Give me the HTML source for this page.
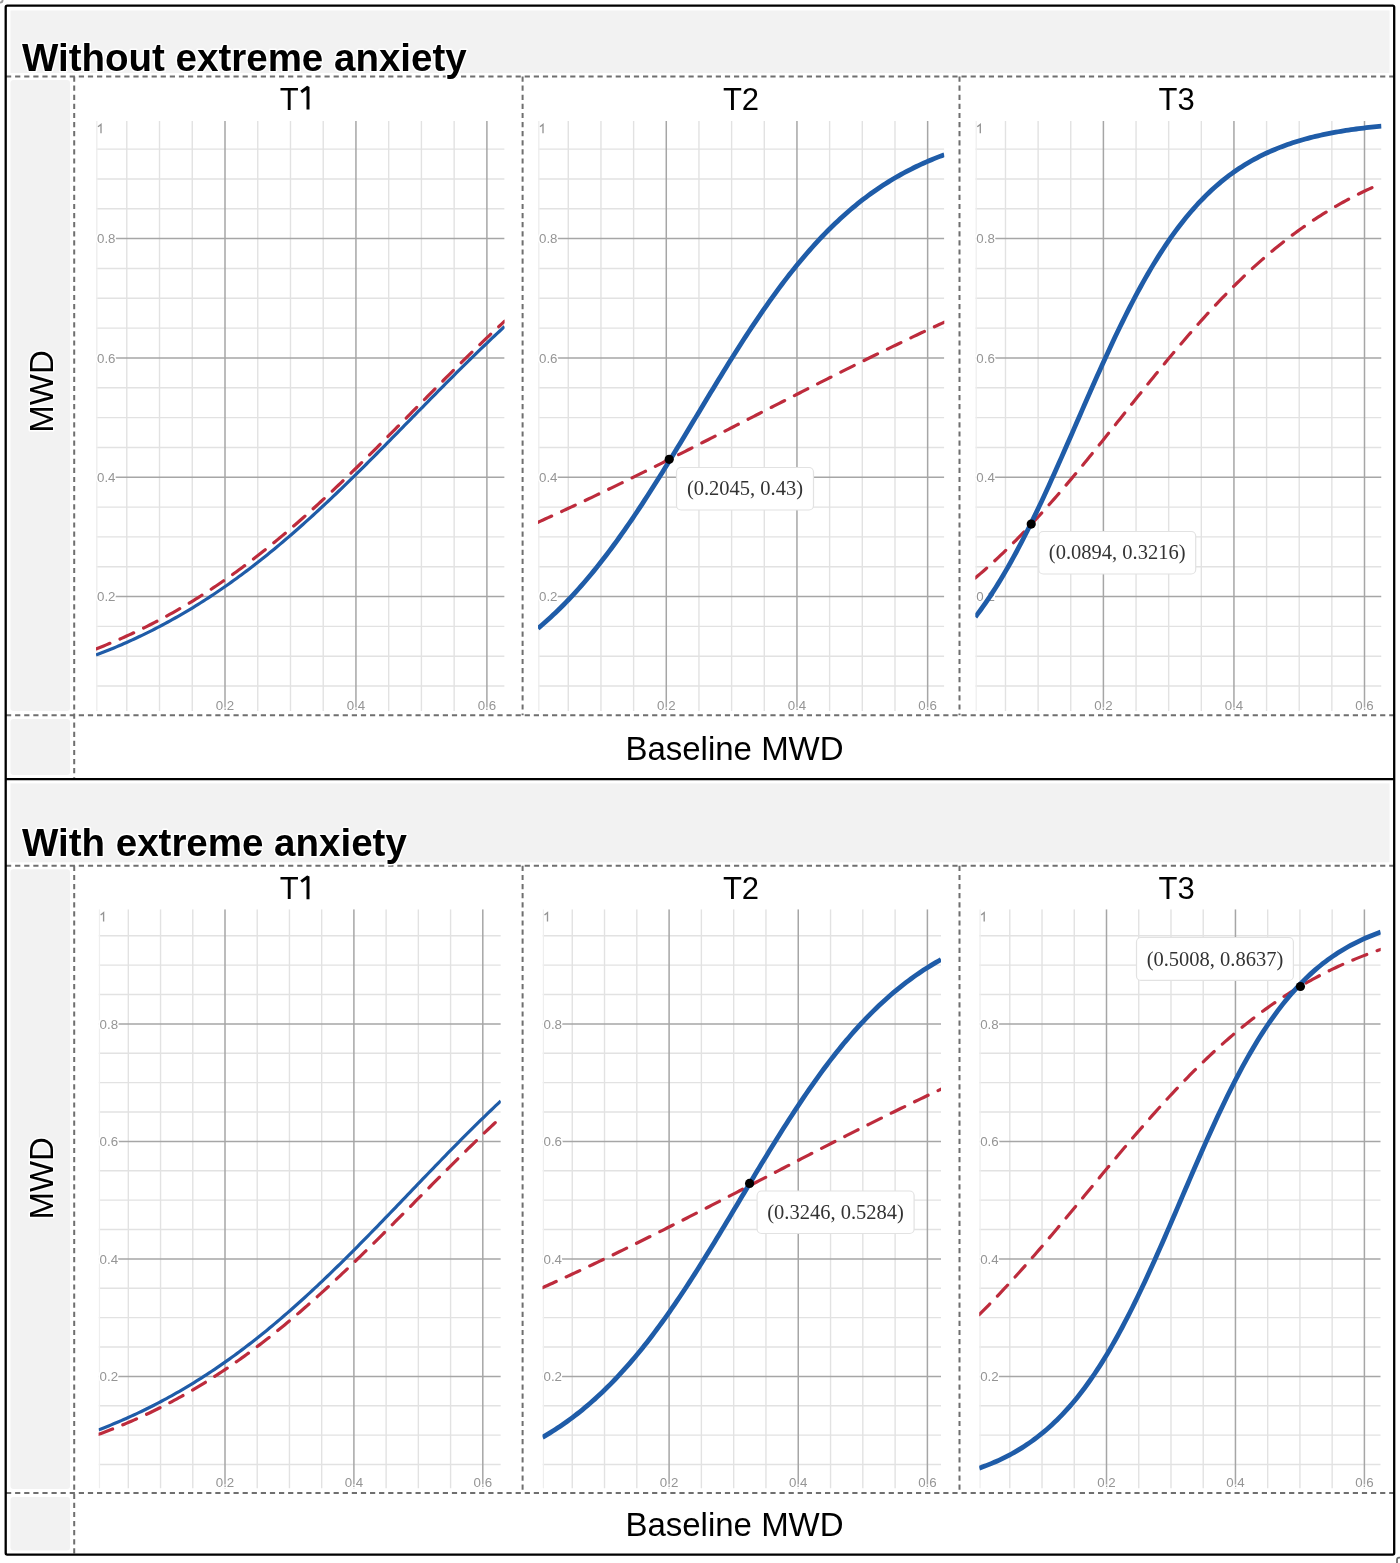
<!DOCTYPE html><html><head><meta charset="utf-8"><style>html,body{margin:0;padding:0;background:#fff;}svg{display:block;filter:blur(0.4px);}text{font-family:"Liberation Sans",sans-serif;}</style></head><body><svg width="1400" height="1563" viewBox="0 0 1400 1563"><rect x="0" y="0" width="1400" height="1563" fill="#fff"/><rect x="10.5" y="10.5" width="1379" height="62.5" fill="#f2f2f2"/><rect x="10.5" y="80.0" width="59.5" height="631.0" rx="3" fill="#f2f2f2"/><rect x="10.5" y="719.0" width="59.5" height="56.0" rx="3" fill="#f2f2f2"/><rect x="10.5" y="783.4" width="1379" height="78.9" fill="#f2f2f2"/><rect x="10.5" y="869.2" width="59.5" height="619.8" rx="3" fill="#f2f2f2"/><rect x="10.5" y="1497.0" width="59.5" height="53.5" rx="3" fill="#f2f2f2"/><defs><clipPath id="c00"><rect x="96.0" y="121.0" width="408.6" height="590.0"/></clipPath><clipPath id="c01"><rect x="538.0" y="121.0" width="406.3" height="590.0"/></clipPath><clipPath id="c02"><rect x="975.3" y="121.0" width="406.2" height="590.0"/></clipPath><clipPath id="c10"><rect x="98.6" y="909.2" width="402.2" height="579.3"/></clipPath><clipPath id="c11"><rect x="542.5" y="909.2" width="398.5" height="579.3"/></clipPath><clipPath id="c12"><rect x="979.2" y="909.2" width="401.5" height="579.3"/></clipPath></defs><g clip-path="url(#c00)"><line x1="126.79" y1="121.0" x2="126.79" y2="711.0" stroke="#e2e2e2" stroke-width="1.4"/><line x1="96.0" y1="686.07" x2="504.6" y2="686.07" stroke="#e2e2e2" stroke-width="1.4"/><line x1="159.53" y1="121.0" x2="159.53" y2="711.0" stroke="#e2e2e2" stroke-width="1.4"/><line x1="96.0" y1="656.24" x2="504.6" y2="656.24" stroke="#e2e2e2" stroke-width="1.4"/><line x1="192.26" y1="121.0" x2="192.26" y2="711.0" stroke="#e2e2e2" stroke-width="1.4"/><line x1="96.0" y1="626.41" x2="504.6" y2="626.41" stroke="#e2e2e2" stroke-width="1.4"/><line x1="257.74" y1="121.0" x2="257.74" y2="711.0" stroke="#e2e2e2" stroke-width="1.4"/><line x1="96.0" y1="566.75" x2="504.6" y2="566.75" stroke="#e2e2e2" stroke-width="1.4"/><line x1="290.48" y1="121.0" x2="290.48" y2="711.0" stroke="#e2e2e2" stroke-width="1.4"/><line x1="96.0" y1="536.92" x2="504.6" y2="536.92" stroke="#e2e2e2" stroke-width="1.4"/><line x1="323.21" y1="121.0" x2="323.21" y2="711.0" stroke="#e2e2e2" stroke-width="1.4"/><line x1="96.0" y1="507.09" x2="504.6" y2="507.09" stroke="#e2e2e2" stroke-width="1.4"/><line x1="388.69" y1="121.0" x2="388.69" y2="711.0" stroke="#e2e2e2" stroke-width="1.4"/><line x1="96.0" y1="447.43" x2="504.6" y2="447.43" stroke="#e2e2e2" stroke-width="1.4"/><line x1="421.43" y1="121.0" x2="421.43" y2="711.0" stroke="#e2e2e2" stroke-width="1.4"/><line x1="96.0" y1="417.60" x2="504.6" y2="417.60" stroke="#e2e2e2" stroke-width="1.4"/><line x1="454.16" y1="121.0" x2="454.16" y2="711.0" stroke="#e2e2e2" stroke-width="1.4"/><line x1="96.0" y1="387.77" x2="504.6" y2="387.77" stroke="#e2e2e2" stroke-width="1.4"/><line x1="96.0" y1="328.11" x2="504.6" y2="328.11" stroke="#e2e2e2" stroke-width="1.4"/><line x1="96.0" y1="298.28" x2="504.6" y2="298.28" stroke="#e2e2e2" stroke-width="1.4"/><line x1="96.0" y1="268.45" x2="504.6" y2="268.45" stroke="#e2e2e2" stroke-width="1.4"/><line x1="96.0" y1="208.79" x2="504.6" y2="208.79" stroke="#e2e2e2" stroke-width="1.4"/><line x1="96.0" y1="178.96" x2="504.6" y2="178.96" stroke="#e2e2e2" stroke-width="1.4"/><line x1="96.0" y1="149.13" x2="504.6" y2="149.13" stroke="#e2e2e2" stroke-width="1.4"/><line x1="96.80" y1="121.0" x2="96.80" y2="711.0" stroke="#eeeeee" stroke-width="1.4"/><line x1="225.00" y1="121.0" x2="225.00" y2="711.0" stroke="#a6a6a6" stroke-width="1.5"/><line x1="96.0" y1="596.58" x2="504.6" y2="596.58" stroke="#a6a6a6" stroke-width="1.5"/><line x1="355.95" y1="121.0" x2="355.95" y2="711.0" stroke="#a6a6a6" stroke-width="1.5"/><line x1="96.0" y1="477.26" x2="504.6" y2="477.26" stroke="#a6a6a6" stroke-width="1.5"/><line x1="486.90" y1="121.0" x2="486.90" y2="711.0" stroke="#a6a6a6" stroke-width="1.5"/><line x1="96.0" y1="357.94" x2="504.6" y2="357.94" stroke="#a6a6a6" stroke-width="1.5"/><line x1="96.0" y1="238.62" x2="504.6" y2="238.62" stroke="#a6a6a6" stroke-width="1.5"/></g><rect x="97.5" y="594.1" width="18.0" height="5" fill="#fff"/><text x="97.0" y="601.4" font-size="13.3" fill="#959595" stroke="#fff" stroke-width="3" paint-order="stroke" stroke-linejoin="round">0.2</text><rect x="97.5" y="474.8" width="18.0" height="5" fill="#fff"/><text x="97.0" y="482.1" font-size="13.3" fill="#959595" stroke="#fff" stroke-width="3" paint-order="stroke" stroke-linejoin="round">0.4</text><rect x="97.5" y="355.4" width="18.0" height="5" fill="#fff"/><text x="97.0" y="362.7" font-size="13.3" fill="#959595" stroke="#fff" stroke-width="3" paint-order="stroke" stroke-linejoin="round">0.6</text><rect x="97.5" y="236.1" width="18.0" height="5" fill="#fff"/><text x="97.0" y="243.4" font-size="13.3" fill="#959595" stroke="#fff" stroke-width="3" paint-order="stroke" stroke-linejoin="round">0.8</text><path d="M98.0 126.8 L101.0 124.4 L101.0 133.3" fill="none" stroke="#959595" stroke-width="1.35" stroke-linejoin="miter"/><text x="225.0" y="709.5" font-size="13.3" fill="#959595" text-anchor="middle" stroke="#fff" stroke-width="2" paint-order="stroke" stroke-linejoin="round">0.2</text><text x="356.0" y="709.5" font-size="13.3" fill="#959595" text-anchor="middle" stroke="#fff" stroke-width="2" paint-order="stroke" stroke-linejoin="round">0.4</text><text x="486.9" y="709.5" font-size="13.3" fill="#959595" text-anchor="middle" stroke="#fff" stroke-width="2" paint-order="stroke" stroke-linejoin="round">0.6</text><g clip-path="url(#c00)"><polyline points="96.00,648.93 98.55,647.93 101.11,646.92 103.66,645.90 106.22,644.86 108.77,643.81 111.32,642.74 113.88,641.67 116.43,640.57 118.98,639.47 121.54,638.35 124.09,637.21 126.64,636.06 129.20,634.90 131.75,633.72 134.31,632.53 136.86,631.32 139.41,630.10 141.97,628.86 144.52,627.61 147.07,626.34 149.63,625.05 152.18,623.75 154.74,622.44 157.29,621.11 159.84,619.76 162.40,618.40 164.95,617.02 167.50,615.63 170.06,614.22 172.61,612.79 175.17,611.34 177.72,609.89 180.27,608.41 182.83,606.92 185.38,605.41 187.94,603.88 190.49,602.34 193.04,600.78 195.60,599.21 198.15,597.61 200.70,596.00 203.26,594.38 205.81,592.73 208.37,591.07 210.92,589.40 213.47,587.70 216.03,585.99 218.58,584.26 221.13,582.52 223.69,580.75 226.24,578.98 228.80,577.18 231.35,575.37 233.90,573.54 236.46,571.69 239.01,569.82 241.56,567.94 244.12,566.05 246.67,564.13 249.23,562.20 251.78,560.25 254.33,558.29 256.89,556.31 259.44,554.31 261.99,552.30 264.55,550.27 267.10,548.22 269.65,546.16 272.21,544.08 274.76,541.99 277.32,539.88 279.87,537.75 282.42,535.61 284.98,533.46 287.53,531.29 290.08,529.10 292.64,526.90 295.19,524.69 297.75,522.46 300.30,520.22 302.85,517.96 305.41,515.69 307.96,513.40 310.51,511.11 313.07,508.79 315.62,506.47 318.18,504.13 320.73,501.78 323.28,499.42 325.84,497.05 328.39,494.66 330.94,492.27 333.50,489.86 336.05,487.44 338.61,485.01 341.16,482.57 343.71,480.12 346.27,477.67 348.82,475.20 351.38,472.72 353.93,470.23 356.48,467.74 359.04,465.24 361.59,462.73 364.14,460.21 366.70,457.69 369.25,455.15 371.81,452.62 374.36,450.07 376.91,447.52 379.47,444.97 382.02,442.41 384.57,439.85 387.13,437.28 389.68,434.71 392.24,432.13 394.79,429.55 397.34,426.97 399.90,424.39 402.45,421.80 405.00,419.22 407.56,416.63 410.11,414.04 412.66,411.45 415.22,408.86 417.77,406.27 420.33,403.69 422.88,401.10 425.43,398.51 427.99,395.93 430.54,393.35 433.10,390.77 435.65,388.20 438.20,385.63 440.76,383.06 443.31,380.50 445.86,377.94 448.42,375.39 450.97,372.84 453.53,370.30 456.08,367.77 458.63,365.24 461.19,362.72 463.74,360.20 466.29,357.70 468.85,355.20 471.40,352.71 473.95,350.23 476.51,347.75 479.06,345.29 481.62,342.84 484.17,340.39 486.72,337.96 489.28,335.54 491.83,333.12 494.38,330.72 496.94,328.33 499.49,325.96 502.05,323.59 504.60,321.24" fill="none" stroke="#bd2b3c" stroke-width="3.2" stroke-linejoin="round" stroke-dasharray="15 11" stroke-linecap="round"/></g><g clip-path="url(#c00)"><polyline points="96.00,655.03 98.55,654.06 101.11,653.07 103.66,652.07 106.22,651.06 108.77,650.03 111.32,648.99 113.88,647.94 116.43,646.87 118.98,645.78 121.54,644.69 124.09,643.57 126.64,642.44 129.20,641.30 131.75,640.14 134.31,638.97 136.86,637.78 139.41,636.57 141.97,635.35 144.52,634.12 147.07,632.86 149.63,631.60 152.18,630.31 154.74,629.01 157.29,627.70 159.84,626.36 162.40,625.01 164.95,623.65 167.50,622.27 170.06,620.87 172.61,619.45 175.17,618.02 177.72,616.57 180.27,615.11 182.83,613.62 185.38,612.12 187.94,610.60 190.49,609.07 193.04,607.52 195.60,605.95 198.15,604.36 200.70,602.76 203.26,601.13 205.81,599.49 208.37,597.84 210.92,596.16 213.47,594.47 216.03,592.76 218.58,591.03 221.13,589.29 223.69,587.53 226.24,585.75 228.80,583.95 231.35,582.13 233.90,580.30 236.46,578.45 239.01,576.58 241.56,574.70 244.12,572.80 246.67,570.88 249.23,568.94 251.78,566.99 254.33,565.01 256.89,563.03 259.44,561.02 261.99,559.00 264.55,556.96 267.10,554.90 269.65,552.83 272.21,550.74 274.76,548.64 277.32,546.52 279.87,544.38 282.42,542.23 284.98,540.06 287.53,537.88 290.08,535.68 292.64,533.47 295.19,531.24 297.75,528.99 300.30,526.74 302.85,524.46 305.41,522.18 307.96,519.88 310.51,517.56 313.07,515.23 315.62,512.89 318.18,510.54 320.73,508.17 323.28,505.79 325.84,503.40 328.39,501.00 330.94,498.59 333.50,496.16 336.05,493.72 338.61,491.28 341.16,488.82 343.71,486.35 346.27,483.87 348.82,481.38 351.38,478.89 353.93,476.38 356.48,473.87 359.04,471.35 361.59,468.82 364.14,466.28 366.70,463.74 369.25,461.19 371.81,458.63 374.36,456.07 376.91,453.50 379.47,450.93 382.02,448.35 384.57,445.76 387.13,443.18 389.68,440.59 392.24,437.99 394.79,435.40 397.34,432.80 399.90,430.20 402.45,427.59 405.00,424.99 407.56,422.38 410.11,419.78 412.66,417.17 415.22,414.57 417.77,411.96 420.33,409.36 422.88,406.76 425.43,404.16 427.99,401.56 430.54,398.96 433.10,396.37 435.65,393.78 438.20,391.20 440.76,388.62 443.31,386.04 445.86,383.47 448.42,380.90 450.97,378.34 453.53,375.79 456.08,373.24 458.63,370.70 461.19,368.16 463.74,365.64 466.29,363.12 468.85,360.61 471.40,358.11 473.95,355.62 476.51,353.13 479.06,350.66 481.62,348.19 484.17,345.74 486.72,343.30 489.28,340.87 491.83,338.44 494.38,336.03 496.94,333.64 499.49,331.25 502.05,328.87 504.60,326.51" fill="none" stroke="#1f5ca8" stroke-width="3.2" stroke-linejoin="round" stroke-linecap="butt"/></g><g clip-path="url(#c01)"><line x1="568.27" y1="121.0" x2="568.27" y2="711.0" stroke="#e2e2e2" stroke-width="1.4"/><line x1="538.0" y1="686.07" x2="944.3" y2="686.07" stroke="#e2e2e2" stroke-width="1.4"/><line x1="600.94" y1="121.0" x2="600.94" y2="711.0" stroke="#e2e2e2" stroke-width="1.4"/><line x1="538.0" y1="656.24" x2="944.3" y2="656.24" stroke="#e2e2e2" stroke-width="1.4"/><line x1="633.61" y1="121.0" x2="633.61" y2="711.0" stroke="#e2e2e2" stroke-width="1.4"/><line x1="538.0" y1="626.41" x2="944.3" y2="626.41" stroke="#e2e2e2" stroke-width="1.4"/><line x1="698.95" y1="121.0" x2="698.95" y2="711.0" stroke="#e2e2e2" stroke-width="1.4"/><line x1="538.0" y1="566.75" x2="944.3" y2="566.75" stroke="#e2e2e2" stroke-width="1.4"/><line x1="731.62" y1="121.0" x2="731.62" y2="711.0" stroke="#e2e2e2" stroke-width="1.4"/><line x1="538.0" y1="536.92" x2="944.3" y2="536.92" stroke="#e2e2e2" stroke-width="1.4"/><line x1="764.29" y1="121.0" x2="764.29" y2="711.0" stroke="#e2e2e2" stroke-width="1.4"/><line x1="538.0" y1="507.09" x2="944.3" y2="507.09" stroke="#e2e2e2" stroke-width="1.4"/><line x1="829.63" y1="121.0" x2="829.63" y2="711.0" stroke="#e2e2e2" stroke-width="1.4"/><line x1="538.0" y1="447.43" x2="944.3" y2="447.43" stroke="#e2e2e2" stroke-width="1.4"/><line x1="862.30" y1="121.0" x2="862.30" y2="711.0" stroke="#e2e2e2" stroke-width="1.4"/><line x1="538.0" y1="417.60" x2="944.3" y2="417.60" stroke="#e2e2e2" stroke-width="1.4"/><line x1="894.97" y1="121.0" x2="894.97" y2="711.0" stroke="#e2e2e2" stroke-width="1.4"/><line x1="538.0" y1="387.77" x2="944.3" y2="387.77" stroke="#e2e2e2" stroke-width="1.4"/><line x1="538.0" y1="328.11" x2="944.3" y2="328.11" stroke="#e2e2e2" stroke-width="1.4"/><line x1="538.0" y1="298.28" x2="944.3" y2="298.28" stroke="#e2e2e2" stroke-width="1.4"/><line x1="538.0" y1="268.45" x2="944.3" y2="268.45" stroke="#e2e2e2" stroke-width="1.4"/><line x1="538.0" y1="208.79" x2="944.3" y2="208.79" stroke="#e2e2e2" stroke-width="1.4"/><line x1="538.0" y1="178.96" x2="944.3" y2="178.96" stroke="#e2e2e2" stroke-width="1.4"/><line x1="538.0" y1="149.13" x2="944.3" y2="149.13" stroke="#e2e2e2" stroke-width="1.4"/><line x1="538.80" y1="121.0" x2="538.80" y2="711.0" stroke="#eeeeee" stroke-width="1.4"/><line x1="666.28" y1="121.0" x2="666.28" y2="711.0" stroke="#a6a6a6" stroke-width="1.5"/><line x1="538.0" y1="596.58" x2="944.3" y2="596.58" stroke="#a6a6a6" stroke-width="1.5"/><line x1="796.96" y1="121.0" x2="796.96" y2="711.0" stroke="#a6a6a6" stroke-width="1.5"/><line x1="538.0" y1="477.26" x2="944.3" y2="477.26" stroke="#a6a6a6" stroke-width="1.5"/><line x1="927.64" y1="121.0" x2="927.64" y2="711.0" stroke="#a6a6a6" stroke-width="1.5"/><line x1="538.0" y1="357.94" x2="944.3" y2="357.94" stroke="#a6a6a6" stroke-width="1.5"/><line x1="538.0" y1="238.62" x2="944.3" y2="238.62" stroke="#a6a6a6" stroke-width="1.5"/></g><rect x="539.5" y="594.1" width="18.0" height="5" fill="#fff"/><text x="539.0" y="601.4" font-size="13.3" fill="#959595" stroke="#fff" stroke-width="3" paint-order="stroke" stroke-linejoin="round">0.2</text><rect x="539.5" y="474.8" width="18.0" height="5" fill="#fff"/><text x="539.0" y="482.1" font-size="13.3" fill="#959595" stroke="#fff" stroke-width="3" paint-order="stroke" stroke-linejoin="round">0.4</text><rect x="539.5" y="355.4" width="18.0" height="5" fill="#fff"/><text x="539.0" y="362.7" font-size="13.3" fill="#959595" stroke="#fff" stroke-width="3" paint-order="stroke" stroke-linejoin="round">0.6</text><rect x="539.5" y="236.1" width="18.0" height="5" fill="#fff"/><text x="539.0" y="243.4" font-size="13.3" fill="#959595" stroke="#fff" stroke-width="3" paint-order="stroke" stroke-linejoin="round">0.8</text><path d="M540.0 126.8 L543.0 124.4 L543.0 133.3" fill="none" stroke="#959595" stroke-width="1.35" stroke-linejoin="miter"/><text x="666.3" y="709.5" font-size="13.3" fill="#959595" text-anchor="middle" stroke="#fff" stroke-width="2" paint-order="stroke" stroke-linejoin="round">0.2</text><text x="797.0" y="709.5" font-size="13.3" fill="#959595" text-anchor="middle" stroke="#fff" stroke-width="2" paint-order="stroke" stroke-linejoin="round">0.4</text><text x="927.6" y="709.5" font-size="13.3" fill="#959595" text-anchor="middle" stroke="#fff" stroke-width="2" paint-order="stroke" stroke-linejoin="round">0.6</text><g clip-path="url(#c01)"><polyline points="538.00,522.23 540.54,521.09 543.08,519.95 545.62,518.80 548.16,517.65 550.70,516.49 553.24,515.33 555.78,514.17 558.32,513.01 560.85,511.84 563.39,510.66 565.93,509.49 568.47,508.31 571.01,507.13 573.55,505.95 576.09,504.76 578.63,503.57 581.17,502.37 583.71,501.18 586.25,499.98 588.79,498.78 591.33,497.57 593.87,496.36 596.41,495.15 598.94,493.94 601.48,492.72 604.02,491.50 606.56,490.28 609.10,489.06 611.64,487.83 614.18,486.60 616.72,485.37 619.26,484.13 621.80,482.90 624.34,481.66 626.88,480.42 629.42,479.17 631.96,477.93 634.50,476.68 637.04,475.43 639.58,474.17 642.11,472.92 644.65,471.66 647.19,470.40 649.73,469.14 652.27,467.88 654.81,466.62 657.35,465.35 659.89,464.08 662.43,462.81 664.97,461.54 667.51,460.27 670.05,458.99 672.59,457.72 675.13,456.44 677.67,455.16 680.20,453.88 682.74,452.60 685.28,451.31 687.82,450.03 690.36,448.74 692.90,447.45 695.44,446.17 697.98,444.88 700.52,443.59 703.06,442.29 705.60,441.00 708.14,439.71 710.68,438.41 713.22,437.12 715.76,435.82 718.30,434.53 720.84,433.23 723.37,431.93 725.91,430.63 728.45,429.34 730.99,428.04 733.53,426.74 736.07,425.44 738.61,424.14 741.15,422.84 743.69,421.54 746.23,420.23 748.77,418.93 751.31,417.63 753.85,416.33 756.39,415.03 758.93,413.73 761.46,412.43 764.00,411.13 766.54,409.83 769.08,408.53 771.62,407.23 774.16,405.93 776.70,404.63 779.24,403.33 781.78,402.03 784.32,400.73 786.86,399.44 789.40,398.14 791.94,396.85 794.48,395.55 797.02,394.26 799.56,392.97 802.10,391.67 804.63,390.38 807.17,389.09 809.71,387.80 812.25,386.51 814.79,385.23 817.33,383.94 819.87,382.66 822.41,381.38 824.95,380.09 827.49,378.81 830.03,377.53 832.57,376.26 835.11,374.98 837.65,373.71 840.19,372.43 842.72,371.16 845.26,369.89 847.80,368.63 850.34,367.36 852.88,366.10 855.42,364.84 857.96,363.58 860.50,362.32 863.04,361.06 865.58,359.81 868.12,358.56 870.66,357.31 873.20,356.06 875.74,354.81 878.28,353.57 880.82,352.33 883.36,351.09 885.89,349.85 888.43,348.62 890.97,347.39 893.51,346.16 896.05,344.94 898.59,343.71 901.13,342.49 903.67,341.27 906.21,340.06 908.75,338.85 911.29,337.64 913.83,336.43 916.37,335.22 918.91,334.02 921.45,332.82 923.99,331.63 926.52,330.44 929.06,329.25 931.60,328.06 934.14,326.88 936.68,325.70 939.22,324.52 941.76,323.35 944.30,322.18" fill="none" stroke="#bd2b3c" stroke-width="3.2" stroke-linejoin="round" stroke-dasharray="15 11" stroke-linecap="round"/></g><g clip-path="url(#c01)"><polyline points="538.00,628.38 540.54,626.24 543.08,624.05 545.62,621.82 548.16,619.54 550.70,617.23 553.24,614.86 555.78,612.46 558.32,610.00 560.85,607.51 563.39,604.96 565.93,602.37 568.47,599.74 571.01,597.06 573.55,594.33 576.09,591.56 578.63,588.74 581.17,585.88 583.71,582.97 586.25,580.01 588.79,577.01 591.33,573.96 593.87,570.87 596.41,567.73 598.94,564.55 601.48,561.32 604.02,558.04 606.56,554.73 609.10,551.37 611.64,547.97 614.18,544.52 616.72,541.04 619.26,537.51 621.80,533.94 624.34,530.33 626.88,526.69 629.42,523.01 631.96,519.29 634.50,515.53 637.04,511.74 639.58,507.91 642.11,504.06 644.65,500.17 647.19,496.25 649.73,492.30 652.27,488.32 654.81,484.32 657.35,480.29 659.89,476.24 662.43,472.17 664.97,468.07 667.51,463.96 670.05,459.82 672.59,455.68 675.13,451.51 677.67,447.34 680.20,443.15 682.74,438.95 685.28,434.74 687.82,430.53 690.36,426.31 692.90,422.09 695.44,417.87 697.98,413.65 700.52,409.43 703.06,405.21 705.60,401.00 708.14,396.79 710.68,392.60 713.22,388.41 715.76,384.24 718.30,380.08 720.84,375.93 723.37,371.80 725.91,367.69 728.45,363.60 730.99,359.53 733.53,355.48 736.07,351.46 738.61,347.46 741.15,343.49 743.69,339.55 746.23,335.64 748.77,331.75 751.31,327.90 753.85,324.08 756.39,320.30 758.93,316.55 761.46,312.83 764.00,309.16 766.54,305.52 769.08,301.92 771.62,298.36 774.16,294.84 776.70,291.36 779.24,287.92 781.78,284.52 784.32,281.17 786.86,277.86 789.40,274.59 791.94,271.37 794.48,268.20 797.02,265.06 799.56,261.98 802.10,258.93 804.63,255.94 807.17,252.99 809.71,250.08 812.25,247.22 814.79,244.41 817.33,241.64 819.87,238.92 822.41,236.24 824.95,233.61 827.49,231.03 830.03,228.49 832.57,226.00 835.11,223.55 837.65,221.14 840.19,218.78 842.72,216.47 845.26,214.19 847.80,211.97 850.34,209.78 852.88,207.64 855.42,205.54 857.96,203.48 860.50,201.46 863.04,199.48 865.58,197.55 868.12,195.65 870.66,193.79 873.20,191.98 875.74,190.20 878.28,188.46 880.82,186.75 883.36,185.08 885.89,183.45 888.43,181.86 890.97,180.30 893.51,178.77 896.05,177.28 898.59,175.82 901.13,174.40 903.67,173.01 906.21,171.65 908.75,170.32 911.29,169.02 913.83,167.75 916.37,166.51 918.91,165.31 921.45,164.12 923.99,162.97 926.52,161.85 929.06,160.75 931.60,159.68 934.14,158.63 936.68,157.61 939.22,156.61 941.76,155.64 944.30,154.69" fill="none" stroke="#1f5ca8" stroke-width="4.8" stroke-linejoin="round" stroke-linecap="butt"/></g><g clip-path="url(#c02)"><line x1="1005.49" y1="121.0" x2="1005.49" y2="711.0" stroke="#e2e2e2" stroke-width="1.4"/><line x1="975.3" y1="686.07" x2="1381.5" y2="686.07" stroke="#e2e2e2" stroke-width="1.4"/><line x1="1038.12" y1="121.0" x2="1038.12" y2="711.0" stroke="#e2e2e2" stroke-width="1.4"/><line x1="975.3" y1="656.24" x2="1381.5" y2="656.24" stroke="#e2e2e2" stroke-width="1.4"/><line x1="1070.76" y1="121.0" x2="1070.76" y2="711.0" stroke="#e2e2e2" stroke-width="1.4"/><line x1="975.3" y1="626.41" x2="1381.5" y2="626.41" stroke="#e2e2e2" stroke-width="1.4"/><line x1="1136.04" y1="121.0" x2="1136.04" y2="711.0" stroke="#e2e2e2" stroke-width="1.4"/><line x1="975.3" y1="566.75" x2="1381.5" y2="566.75" stroke="#e2e2e2" stroke-width="1.4"/><line x1="1168.67" y1="121.0" x2="1168.67" y2="711.0" stroke="#e2e2e2" stroke-width="1.4"/><line x1="975.3" y1="536.92" x2="1381.5" y2="536.92" stroke="#e2e2e2" stroke-width="1.4"/><line x1="1201.31" y1="121.0" x2="1201.31" y2="711.0" stroke="#e2e2e2" stroke-width="1.4"/><line x1="975.3" y1="507.09" x2="1381.5" y2="507.09" stroke="#e2e2e2" stroke-width="1.4"/><line x1="1266.59" y1="121.0" x2="1266.59" y2="711.0" stroke="#e2e2e2" stroke-width="1.4"/><line x1="975.3" y1="447.43" x2="1381.5" y2="447.43" stroke="#e2e2e2" stroke-width="1.4"/><line x1="1299.22" y1="121.0" x2="1299.22" y2="711.0" stroke="#e2e2e2" stroke-width="1.4"/><line x1="975.3" y1="417.60" x2="1381.5" y2="417.60" stroke="#e2e2e2" stroke-width="1.4"/><line x1="1331.86" y1="121.0" x2="1331.86" y2="711.0" stroke="#e2e2e2" stroke-width="1.4"/><line x1="975.3" y1="387.77" x2="1381.5" y2="387.77" stroke="#e2e2e2" stroke-width="1.4"/><line x1="975.3" y1="328.11" x2="1381.5" y2="328.11" stroke="#e2e2e2" stroke-width="1.4"/><line x1="975.3" y1="298.28" x2="1381.5" y2="298.28" stroke="#e2e2e2" stroke-width="1.4"/><line x1="975.3" y1="268.45" x2="1381.5" y2="268.45" stroke="#e2e2e2" stroke-width="1.4"/><line x1="975.3" y1="208.79" x2="1381.5" y2="208.79" stroke="#e2e2e2" stroke-width="1.4"/><line x1="975.3" y1="178.96" x2="1381.5" y2="178.96" stroke="#e2e2e2" stroke-width="1.4"/><line x1="975.3" y1="149.13" x2="1381.5" y2="149.13" stroke="#e2e2e2" stroke-width="1.4"/><line x1="976.10" y1="121.0" x2="976.10" y2="711.0" stroke="#eeeeee" stroke-width="1.4"/><line x1="1103.40" y1="121.0" x2="1103.40" y2="711.0" stroke="#a6a6a6" stroke-width="1.5"/><line x1="975.3" y1="596.58" x2="1381.5" y2="596.58" stroke="#a6a6a6" stroke-width="1.5"/><line x1="1233.95" y1="121.0" x2="1233.95" y2="711.0" stroke="#a6a6a6" stroke-width="1.5"/><line x1="975.3" y1="477.26" x2="1381.5" y2="477.26" stroke="#a6a6a6" stroke-width="1.5"/><line x1="1364.50" y1="121.0" x2="1364.50" y2="711.0" stroke="#a6a6a6" stroke-width="1.5"/><line x1="975.3" y1="357.94" x2="1381.5" y2="357.94" stroke="#a6a6a6" stroke-width="1.5"/><line x1="975.3" y1="238.62" x2="1381.5" y2="238.62" stroke="#a6a6a6" stroke-width="1.5"/></g><rect x="976.8" y="594.1" width="18.0" height="5" fill="#fff"/><text x="976.3" y="601.4" font-size="13.3" fill="#959595" stroke="#fff" stroke-width="3" paint-order="stroke" stroke-linejoin="round">0.2</text><rect x="976.8" y="474.8" width="18.0" height="5" fill="#fff"/><text x="976.3" y="482.1" font-size="13.3" fill="#959595" stroke="#fff" stroke-width="3" paint-order="stroke" stroke-linejoin="round">0.4</text><rect x="976.8" y="355.4" width="18.0" height="5" fill="#fff"/><text x="976.3" y="362.7" font-size="13.3" fill="#959595" stroke="#fff" stroke-width="3" paint-order="stroke" stroke-linejoin="round">0.6</text><rect x="976.8" y="236.1" width="18.0" height="5" fill="#fff"/><text x="976.3" y="243.4" font-size="13.3" fill="#959595" stroke="#fff" stroke-width="3" paint-order="stroke" stroke-linejoin="round">0.8</text><path d="M977.3 126.8 L980.3 124.4 L980.3 133.3" fill="none" stroke="#959595" stroke-width="1.35" stroke-linejoin="miter"/><text x="1103.4" y="709.5" font-size="13.3" fill="#959595" text-anchor="middle" stroke="#fff" stroke-width="2" paint-order="stroke" stroke-linejoin="round">0.2</text><text x="1234.0" y="709.5" font-size="13.3" fill="#959595" text-anchor="middle" stroke="#fff" stroke-width="2" paint-order="stroke" stroke-linejoin="round">0.4</text><text x="1364.5" y="709.5" font-size="13.3" fill="#959595" text-anchor="middle" stroke="#fff" stroke-width="2" paint-order="stroke" stroke-linejoin="round">0.6</text><g clip-path="url(#c02)"><polyline points="975.30,577.97 977.84,575.81 980.38,573.63 982.92,571.42 985.45,569.19 987.99,566.93 990.53,564.64 993.07,562.32 995.61,559.98 998.15,557.61 1000.69,555.21 1003.23,552.79 1005.76,550.34 1008.30,547.86 1010.84,545.36 1013.38,542.84 1015.92,540.28 1018.46,537.71 1021.00,535.10 1023.54,532.48 1026.08,529.82 1028.61,527.15 1031.15,524.45 1033.69,521.72 1036.23,518.98 1038.77,516.21 1041.31,513.42 1043.85,510.60 1046.38,507.77 1048.92,504.92 1051.46,502.04 1054.00,499.14 1056.54,496.23 1059.08,493.29 1061.62,490.34 1064.16,487.37 1066.69,484.39 1069.23,481.38 1071.77,478.36 1074.31,475.33 1076.85,472.28 1079.39,469.21 1081.93,466.14 1084.47,463.05 1087.00,459.95 1089.54,456.84 1092.08,453.71 1094.62,450.58 1097.16,447.44 1099.70,444.29 1102.24,441.13 1104.78,437.97 1107.32,434.80 1109.85,431.63 1112.39,428.45 1114.93,425.27 1117.47,422.08 1120.01,418.90 1122.55,415.71 1125.09,412.52 1127.62,409.33 1130.16,406.15 1132.70,402.96 1135.24,399.78 1137.78,396.61 1140.32,393.44 1142.86,390.27 1145.40,387.11 1147.93,383.96 1150.47,380.81 1153.01,377.67 1155.55,374.55 1158.09,371.43 1160.63,368.32 1163.17,365.23 1165.71,362.14 1168.24,359.07 1170.78,356.02 1173.32,352.98 1175.86,349.95 1178.40,346.94 1180.94,343.94 1183.48,340.96 1186.02,338.00 1188.56,335.06 1191.09,332.14 1193.63,329.23 1196.17,326.35 1198.71,323.48 1201.25,320.64 1203.79,317.82 1206.33,315.02 1208.87,312.24 1211.40,309.48 1213.94,306.75 1216.48,304.04 1219.02,301.36 1221.56,298.70 1224.10,296.06 1226.64,293.45 1229.17,290.86 1231.71,288.30 1234.25,285.76 1236.79,283.25 1239.33,280.77 1241.87,278.31 1244.41,275.88 1246.95,273.48 1249.49,271.10 1252.02,268.75 1254.56,266.42 1257.10,264.13 1259.64,261.86 1262.18,259.62 1264.72,257.40 1267.26,255.21 1269.80,253.06 1272.33,250.92 1274.87,248.82 1277.41,246.74 1279.95,244.69 1282.49,242.67 1285.03,240.67 1287.57,238.70 1290.11,236.76 1292.64,234.85 1295.18,232.96 1297.72,231.10 1300.26,229.26 1302.80,227.45 1305.34,225.67 1307.88,223.92 1310.41,222.19 1312.95,220.48 1315.49,218.81 1318.03,217.15 1320.57,215.53 1323.11,213.92 1325.65,212.35 1328.19,210.79 1330.72,209.26 1333.26,207.76 1335.80,206.28 1338.34,204.82 1340.88,203.39 1343.42,201.98 1345.96,200.59 1348.50,199.23 1351.04,197.89 1353.57,196.57 1356.11,195.27 1358.65,194.00 1361.19,192.74 1363.73,191.51 1366.27,190.30 1368.81,189.10 1371.35,187.93 1373.88,186.78 1376.42,185.65 1378.96,184.54 1381.50,183.45" fill="none" stroke="#bd2b3c" stroke-width="3.2" stroke-linejoin="round" stroke-dasharray="15 11" stroke-linecap="round"/></g><g clip-path="url(#c02)"><polyline points="975.30,617.02 977.84,613.66 980.38,610.22 982.92,606.68 985.45,603.06 987.99,599.36 990.53,595.56 993.07,591.67 995.61,587.70 998.15,583.63 1000.69,579.48 1003.23,575.24 1005.76,570.91 1008.30,566.49 1010.84,561.99 1013.38,557.41 1015.92,552.74 1018.46,547.99 1021.00,543.16 1023.54,538.26 1026.08,533.27 1028.61,528.22 1031.15,523.09 1033.69,517.89 1036.23,512.63 1038.77,507.30 1041.31,501.92 1043.85,496.48 1046.38,490.98 1048.92,485.44 1051.46,479.84 1054.00,474.21 1056.54,468.54 1059.08,462.83 1061.62,457.10 1064.16,451.34 1066.69,445.55 1069.23,439.75 1071.77,433.94 1074.31,428.12 1076.85,422.29 1079.39,416.47 1081.93,410.64 1084.47,404.83 1087.00,399.04 1089.54,393.26 1092.08,387.50 1094.62,381.77 1097.16,376.07 1099.70,370.40 1102.24,364.78 1104.78,359.19 1107.32,353.65 1109.85,348.17 1112.39,342.73 1114.93,337.35 1117.47,332.03 1120.01,326.77 1122.55,321.58 1125.09,316.46 1127.62,311.40 1130.16,306.42 1132.70,301.51 1135.24,296.68 1137.78,291.93 1140.32,287.25 1142.86,282.66 1145.40,278.15 1147.93,273.72 1150.47,269.38 1153.01,265.12 1155.55,260.95 1158.09,256.86 1160.63,252.86 1163.17,248.94 1165.71,245.12 1168.24,241.37 1170.78,237.72 1173.32,234.15 1175.86,230.66 1178.40,227.26 1180.94,223.94 1183.48,220.71 1186.02,217.56 1188.56,214.48 1191.09,211.49 1193.63,208.58 1196.17,205.75 1198.71,202.99 1201.25,200.31 1203.79,197.71 1206.33,195.17 1208.87,192.71 1211.40,190.32 1213.94,188.00 1216.48,185.75 1219.02,183.56 1221.56,181.44 1224.10,179.38 1226.64,177.39 1229.17,175.45 1231.71,173.58 1234.25,171.76 1236.79,170.00 1239.33,168.29 1241.87,166.64 1244.41,165.04 1246.95,163.49 1249.49,161.99 1252.02,160.54 1254.56,159.13 1257.10,157.77 1259.64,156.46 1262.18,155.19 1264.72,153.96 1267.26,152.77 1269.80,151.61 1272.33,150.50 1274.87,149.43 1277.41,148.39 1279.95,147.38 1282.49,146.41 1285.03,145.47 1287.57,144.57 1290.11,143.69 1292.64,142.84 1295.18,142.03 1297.72,141.24 1300.26,140.47 1302.80,139.74 1305.34,139.03 1307.88,138.34 1310.41,137.68 1312.95,137.04 1315.49,136.42 1318.03,135.82 1320.57,135.25 1323.11,134.69 1325.65,134.15 1328.19,133.63 1330.72,133.13 1333.26,132.65 1335.80,132.19 1338.34,131.74 1340.88,131.30 1343.42,130.88 1345.96,130.48 1348.50,130.09 1351.04,129.71 1353.57,129.35 1356.11,129.00 1358.65,128.66 1361.19,128.33 1363.73,128.02 1366.27,127.71 1368.81,127.42 1371.35,127.14 1373.88,126.86 1376.42,126.60 1378.96,126.35 1381.50,126.10" fill="none" stroke="#1f5ca8" stroke-width="4.8" stroke-linejoin="round" stroke-linecap="butt"/></g><g clip-path="url(#c10)"><line x1="128.32" y1="909.2" x2="128.32" y2="1488.5" stroke="#e2e2e2" stroke-width="1.4"/><line x1="98.6" y1="1464.53" x2="500.8" y2="1464.53" stroke="#e2e2e2" stroke-width="1.4"/><line x1="160.55" y1="909.2" x2="160.55" y2="1488.5" stroke="#e2e2e2" stroke-width="1.4"/><line x1="98.6" y1="1435.15" x2="500.8" y2="1435.15" stroke="#e2e2e2" stroke-width="1.4"/><line x1="192.78" y1="909.2" x2="192.78" y2="1488.5" stroke="#e2e2e2" stroke-width="1.4"/><line x1="98.6" y1="1405.78" x2="500.8" y2="1405.78" stroke="#e2e2e2" stroke-width="1.4"/><line x1="257.23" y1="909.2" x2="257.23" y2="1488.5" stroke="#e2e2e2" stroke-width="1.4"/><line x1="98.6" y1="1347.03" x2="500.8" y2="1347.03" stroke="#e2e2e2" stroke-width="1.4"/><line x1="289.45" y1="909.2" x2="289.45" y2="1488.5" stroke="#e2e2e2" stroke-width="1.4"/><line x1="98.6" y1="1317.65" x2="500.8" y2="1317.65" stroke="#e2e2e2" stroke-width="1.4"/><line x1="321.68" y1="909.2" x2="321.68" y2="1488.5" stroke="#e2e2e2" stroke-width="1.4"/><line x1="98.6" y1="1288.28" x2="500.8" y2="1288.28" stroke="#e2e2e2" stroke-width="1.4"/><line x1="386.12" y1="909.2" x2="386.12" y2="1488.5" stroke="#e2e2e2" stroke-width="1.4"/><line x1="98.6" y1="1229.53" x2="500.8" y2="1229.53" stroke="#e2e2e2" stroke-width="1.4"/><line x1="418.35" y1="909.2" x2="418.35" y2="1488.5" stroke="#e2e2e2" stroke-width="1.4"/><line x1="98.6" y1="1200.15" x2="500.8" y2="1200.15" stroke="#e2e2e2" stroke-width="1.4"/><line x1="450.58" y1="909.2" x2="450.58" y2="1488.5" stroke="#e2e2e2" stroke-width="1.4"/><line x1="98.6" y1="1170.78" x2="500.8" y2="1170.78" stroke="#e2e2e2" stroke-width="1.4"/><line x1="98.6" y1="1112.03" x2="500.8" y2="1112.03" stroke="#e2e2e2" stroke-width="1.4"/><line x1="98.6" y1="1082.65" x2="500.8" y2="1082.65" stroke="#e2e2e2" stroke-width="1.4"/><line x1="98.6" y1="1053.28" x2="500.8" y2="1053.28" stroke="#e2e2e2" stroke-width="1.4"/><line x1="98.6" y1="994.53" x2="500.8" y2="994.53" stroke="#e2e2e2" stroke-width="1.4"/><line x1="98.6" y1="965.15" x2="500.8" y2="965.15" stroke="#e2e2e2" stroke-width="1.4"/><line x1="98.6" y1="935.78" x2="500.8" y2="935.78" stroke="#e2e2e2" stroke-width="1.4"/><line x1="99.40" y1="909.2" x2="99.40" y2="1488.5" stroke="#eeeeee" stroke-width="1.4"/><line x1="225.00" y1="909.2" x2="225.00" y2="1488.5" stroke="#a6a6a6" stroke-width="1.5"/><line x1="98.6" y1="1376.40" x2="500.8" y2="1376.40" stroke="#a6a6a6" stroke-width="1.5"/><line x1="353.90" y1="909.2" x2="353.90" y2="1488.5" stroke="#a6a6a6" stroke-width="1.5"/><line x1="98.6" y1="1258.90" x2="500.8" y2="1258.90" stroke="#a6a6a6" stroke-width="1.5"/><line x1="482.80" y1="909.2" x2="482.80" y2="1488.5" stroke="#a6a6a6" stroke-width="1.5"/><line x1="98.6" y1="1141.40" x2="500.8" y2="1141.40" stroke="#a6a6a6" stroke-width="1.5"/><line x1="98.6" y1="1023.90" x2="500.8" y2="1023.90" stroke="#a6a6a6" stroke-width="1.5"/></g><rect x="100.1" y="1373.9" width="18.0" height="5" fill="#fff"/><text x="99.6" y="1381.2" font-size="13.3" fill="#959595" stroke="#fff" stroke-width="3" paint-order="stroke" stroke-linejoin="round">0.2</text><rect x="100.1" y="1256.4" width="18.0" height="5" fill="#fff"/><text x="99.6" y="1263.7" font-size="13.3" fill="#959595" stroke="#fff" stroke-width="3" paint-order="stroke" stroke-linejoin="round">0.4</text><rect x="100.1" y="1138.9" width="18.0" height="5" fill="#fff"/><text x="99.6" y="1146.2" font-size="13.3" fill="#959595" stroke="#fff" stroke-width="3" paint-order="stroke" stroke-linejoin="round">0.6</text><rect x="100.1" y="1021.4" width="18.0" height="5" fill="#fff"/><text x="99.6" y="1028.7" font-size="13.3" fill="#959595" stroke="#fff" stroke-width="3" paint-order="stroke" stroke-linejoin="round">0.8</text><path d="M100.6 915.0 L103.6 912.6 L103.6 921.5" fill="none" stroke="#959595" stroke-width="1.35" stroke-linejoin="miter"/><text x="225.0" y="1487.0" font-size="13.3" fill="#959595" text-anchor="middle" stroke="#fff" stroke-width="2" paint-order="stroke" stroke-linejoin="round">0.2</text><text x="353.9" y="1487.0" font-size="13.3" fill="#959595" text-anchor="middle" stroke="#fff" stroke-width="2" paint-order="stroke" stroke-linejoin="round">0.4</text><text x="482.8" y="1487.0" font-size="13.3" fill="#959595" text-anchor="middle" stroke="#fff" stroke-width="2" paint-order="stroke" stroke-linejoin="round">0.6</text><g clip-path="url(#c10)"><polyline points="98.60,1434.31 101.11,1433.39 103.63,1432.45 106.14,1431.49 108.66,1430.53 111.17,1429.55 113.68,1428.55 116.20,1427.55 118.71,1426.53 121.22,1425.50 123.74,1424.45 126.25,1423.39 128.76,1422.31 131.28,1421.22 133.79,1420.12 136.31,1419.00 138.82,1417.87 141.33,1416.72 143.85,1415.56 146.36,1414.39 148.88,1413.20 151.39,1411.99 153.90,1410.77 156.42,1409.53 158.93,1408.28 161.44,1407.01 163.96,1405.73 166.47,1404.43 168.99,1403.12 171.50,1401.79 174.01,1400.44 176.53,1399.08 179.04,1397.70 181.55,1396.31 184.07,1394.90 186.58,1393.48 189.09,1392.03 191.61,1390.57 194.12,1389.10 196.64,1387.61 199.15,1386.10 201.66,1384.58 204.18,1383.03 206.69,1381.48 209.20,1379.90 211.72,1378.31 214.23,1376.70 216.75,1375.08 219.26,1373.43 221.77,1371.78 224.29,1370.10 226.80,1368.41 229.31,1366.70 231.83,1364.97 234.34,1363.23 236.86,1361.47 239.37,1359.69 241.88,1357.90 244.40,1356.09 246.91,1354.26 249.42,1352.42 251.94,1350.56 254.45,1348.68 256.97,1346.79 259.48,1344.88 261.99,1342.95 264.51,1341.01 267.02,1339.05 269.53,1337.08 272.05,1335.09 274.56,1333.08 277.08,1331.06 279.59,1329.02 282.10,1326.97 284.62,1324.90 287.13,1322.82 289.64,1320.72 292.16,1318.60 294.67,1316.47 297.19,1314.33 299.70,1312.17 302.21,1310.00 304.73,1307.81 307.24,1305.61 309.75,1303.40 312.27,1301.17 314.78,1298.93 317.30,1296.67 319.81,1294.40 322.32,1292.12 324.84,1289.83 327.35,1287.53 329.87,1285.21 332.38,1282.88 334.89,1280.54 337.41,1278.19 339.92,1275.83 342.43,1273.46 344.95,1271.07 347.46,1268.68 349.97,1266.28 352.49,1263.87 355.00,1261.45 357.52,1259.02 360.03,1256.58 362.54,1254.13 365.06,1251.68 367.57,1249.21 370.08,1246.75 372.60,1244.27 375.11,1241.79 377.63,1239.30 380.14,1236.80 382.65,1234.30 385.17,1231.80 387.68,1229.29 390.19,1226.77 392.71,1224.26 395.22,1221.73 397.74,1219.21 400.25,1216.68 402.76,1214.15 405.28,1211.62 407.79,1209.08 410.30,1206.54 412.82,1204.01 415.33,1201.47 417.85,1198.93 420.36,1196.39 422.87,1193.86 425.39,1191.32 427.90,1188.78 430.41,1186.25 432.93,1183.72 435.44,1181.19 437.96,1178.66 440.47,1176.14 442.98,1173.62 445.50,1171.10 448.01,1168.59 450.52,1166.08 453.04,1163.58 455.55,1161.08 458.07,1158.59 460.58,1156.10 463.09,1153.62 465.61,1151.15 468.12,1148.68 470.63,1146.23 473.15,1143.77 475.66,1141.33 478.18,1138.90 480.69,1136.47 483.20,1134.06 485.72,1131.65 488.23,1129.25 490.75,1126.86 493.26,1124.48 495.77,1122.12 498.29,1119.76 500.80,1117.42" fill="none" stroke="#bd2b3c" stroke-width="3.2" stroke-linejoin="round" stroke-dasharray="15 11" stroke-linecap="round"/></g><g clip-path="url(#c10)"><polyline points="98.60,1429.87 101.11,1428.89 103.63,1427.91 106.14,1426.91 108.66,1425.90 111.17,1424.87 113.68,1423.83 116.20,1422.78 118.71,1421.71 121.22,1420.63 123.74,1419.53 126.25,1418.42 128.76,1417.30 131.28,1416.16 133.79,1415.00 136.31,1413.83 138.82,1412.65 141.33,1411.45 143.85,1410.23 146.36,1409.00 148.88,1407.75 151.39,1406.49 153.90,1405.21 156.42,1403.92 158.93,1402.61 161.44,1401.28 163.96,1399.94 166.47,1398.58 168.99,1397.21 171.50,1395.81 174.01,1394.41 176.53,1392.98 179.04,1391.54 181.55,1390.08 184.07,1388.60 186.58,1387.11 189.09,1385.60 191.61,1384.08 194.12,1382.53 196.64,1380.97 199.15,1379.39 201.66,1377.79 204.18,1376.18 206.69,1374.55 209.20,1372.90 211.72,1371.24 214.23,1369.55 216.75,1367.85 219.26,1366.13 221.77,1364.40 224.29,1362.64 226.80,1360.87 229.31,1359.08 231.83,1357.27 234.34,1355.45 236.86,1353.61 239.37,1351.75 241.88,1349.87 244.40,1347.97 246.91,1346.06 249.42,1344.13 251.94,1342.18 254.45,1340.22 256.97,1338.24 259.48,1336.24 261.99,1334.22 264.51,1332.19 267.02,1330.14 269.53,1328.07 272.05,1325.99 274.56,1323.89 277.08,1321.77 279.59,1319.64 282.10,1317.49 284.62,1315.33 287.13,1313.15 289.64,1310.95 292.16,1308.74 294.67,1306.51 297.19,1304.27 299.70,1302.01 302.21,1299.74 304.73,1297.45 307.24,1295.15 309.75,1292.84 312.27,1290.51 314.78,1288.17 317.30,1285.81 319.81,1283.44 322.32,1281.06 324.84,1278.67 327.35,1276.26 329.87,1273.84 332.38,1271.41 334.89,1268.97 337.41,1266.51 339.92,1264.05 342.43,1261.57 344.95,1259.09 347.46,1256.59 349.97,1254.09 352.49,1251.58 355.00,1249.05 357.52,1246.52 360.03,1243.98 362.54,1241.44 365.06,1238.88 367.57,1236.32 370.08,1233.75 372.60,1231.18 375.11,1228.60 377.63,1226.01 380.14,1223.42 382.65,1220.82 385.17,1218.22 387.68,1215.62 390.19,1213.01 392.71,1210.40 395.22,1207.78 397.74,1205.17 400.25,1202.55 402.76,1199.93 405.28,1197.31 407.79,1194.69 410.30,1192.07 412.82,1189.44 415.33,1186.82 417.85,1184.20 420.36,1181.59 422.87,1178.97 425.39,1176.35 427.90,1173.74 430.41,1171.13 432.93,1168.53 435.44,1165.93 437.96,1163.33 440.47,1160.74 442.98,1158.15 445.50,1155.57 448.01,1152.99 450.52,1150.42 453.04,1147.86 455.55,1145.31 458.07,1142.76 460.58,1140.22 463.09,1137.69 465.61,1135.16 468.12,1132.65 470.63,1130.14 473.15,1127.65 475.66,1125.16 478.18,1122.69 480.69,1120.22 483.20,1117.77 485.72,1115.33 488.23,1112.90 490.75,1110.48 493.26,1108.07 495.77,1105.68 498.29,1103.30 500.80,1100.93" fill="none" stroke="#1f5ca8" stroke-width="3.2" stroke-linejoin="round" stroke-linecap="butt"/></g><g clip-path="url(#c11)"><line x1="572.24" y1="909.2" x2="572.24" y2="1488.5" stroke="#e2e2e2" stroke-width="1.4"/><line x1="542.5" y1="1464.53" x2="941.0" y2="1464.53" stroke="#e2e2e2" stroke-width="1.4"/><line x1="604.53" y1="909.2" x2="604.53" y2="1488.5" stroke="#e2e2e2" stroke-width="1.4"/><line x1="542.5" y1="1435.15" x2="941.0" y2="1435.15" stroke="#e2e2e2" stroke-width="1.4"/><line x1="636.81" y1="909.2" x2="636.81" y2="1488.5" stroke="#e2e2e2" stroke-width="1.4"/><line x1="542.5" y1="1405.78" x2="941.0" y2="1405.78" stroke="#e2e2e2" stroke-width="1.4"/><line x1="701.39" y1="909.2" x2="701.39" y2="1488.5" stroke="#e2e2e2" stroke-width="1.4"/><line x1="542.5" y1="1347.03" x2="941.0" y2="1347.03" stroke="#e2e2e2" stroke-width="1.4"/><line x1="733.68" y1="909.2" x2="733.68" y2="1488.5" stroke="#e2e2e2" stroke-width="1.4"/><line x1="542.5" y1="1317.65" x2="941.0" y2="1317.65" stroke="#e2e2e2" stroke-width="1.4"/><line x1="765.96" y1="909.2" x2="765.96" y2="1488.5" stroke="#e2e2e2" stroke-width="1.4"/><line x1="542.5" y1="1288.28" x2="941.0" y2="1288.28" stroke="#e2e2e2" stroke-width="1.4"/><line x1="830.54" y1="909.2" x2="830.54" y2="1488.5" stroke="#e2e2e2" stroke-width="1.4"/><line x1="542.5" y1="1229.53" x2="941.0" y2="1229.53" stroke="#e2e2e2" stroke-width="1.4"/><line x1="862.83" y1="909.2" x2="862.83" y2="1488.5" stroke="#e2e2e2" stroke-width="1.4"/><line x1="542.5" y1="1200.15" x2="941.0" y2="1200.15" stroke="#e2e2e2" stroke-width="1.4"/><line x1="895.11" y1="909.2" x2="895.11" y2="1488.5" stroke="#e2e2e2" stroke-width="1.4"/><line x1="542.5" y1="1170.78" x2="941.0" y2="1170.78" stroke="#e2e2e2" stroke-width="1.4"/><line x1="542.5" y1="1112.03" x2="941.0" y2="1112.03" stroke="#e2e2e2" stroke-width="1.4"/><line x1="542.5" y1="1082.65" x2="941.0" y2="1082.65" stroke="#e2e2e2" stroke-width="1.4"/><line x1="542.5" y1="1053.28" x2="941.0" y2="1053.28" stroke="#e2e2e2" stroke-width="1.4"/><line x1="542.5" y1="994.53" x2="941.0" y2="994.53" stroke="#e2e2e2" stroke-width="1.4"/><line x1="542.5" y1="965.15" x2="941.0" y2="965.15" stroke="#e2e2e2" stroke-width="1.4"/><line x1="542.5" y1="935.78" x2="941.0" y2="935.78" stroke="#e2e2e2" stroke-width="1.4"/><line x1="543.30" y1="909.2" x2="543.30" y2="1488.5" stroke="#eeeeee" stroke-width="1.4"/><line x1="669.10" y1="909.2" x2="669.10" y2="1488.5" stroke="#a6a6a6" stroke-width="1.5"/><line x1="542.5" y1="1376.40" x2="941.0" y2="1376.40" stroke="#a6a6a6" stroke-width="1.5"/><line x1="798.25" y1="909.2" x2="798.25" y2="1488.5" stroke="#a6a6a6" stroke-width="1.5"/><line x1="542.5" y1="1258.90" x2="941.0" y2="1258.90" stroke="#a6a6a6" stroke-width="1.5"/><line x1="927.40" y1="909.2" x2="927.40" y2="1488.5" stroke="#a6a6a6" stroke-width="1.5"/><line x1="542.5" y1="1141.40" x2="941.0" y2="1141.40" stroke="#a6a6a6" stroke-width="1.5"/><line x1="542.5" y1="1023.90" x2="941.0" y2="1023.90" stroke="#a6a6a6" stroke-width="1.5"/></g><rect x="544.0" y="1373.9" width="18.0" height="5" fill="#fff"/><text x="543.5" y="1381.2" font-size="13.3" fill="#959595" stroke="#fff" stroke-width="3" paint-order="stroke" stroke-linejoin="round">0.2</text><rect x="544.0" y="1256.4" width="18.0" height="5" fill="#fff"/><text x="543.5" y="1263.7" font-size="13.3" fill="#959595" stroke="#fff" stroke-width="3" paint-order="stroke" stroke-linejoin="round">0.4</text><rect x="544.0" y="1138.9" width="18.0" height="5" fill="#fff"/><text x="543.5" y="1146.2" font-size="13.3" fill="#959595" stroke="#fff" stroke-width="3" paint-order="stroke" stroke-linejoin="round">0.6</text><rect x="544.0" y="1021.4" width="18.0" height="5" fill="#fff"/><text x="543.5" y="1028.7" font-size="13.3" fill="#959595" stroke="#fff" stroke-width="3" paint-order="stroke" stroke-linejoin="round">0.8</text><path d="M544.5 915.0 L547.5 912.6 L547.5 921.5" fill="none" stroke="#959595" stroke-width="1.35" stroke-linejoin="miter"/><text x="669.1" y="1487.0" font-size="13.3" fill="#959595" text-anchor="middle" stroke="#fff" stroke-width="2" paint-order="stroke" stroke-linejoin="round">0.2</text><text x="798.2" y="1487.0" font-size="13.3" fill="#959595" text-anchor="middle" stroke="#fff" stroke-width="2" paint-order="stroke" stroke-linejoin="round">0.4</text><text x="927.4" y="1487.0" font-size="13.3" fill="#959595" text-anchor="middle" stroke="#fff" stroke-width="2" paint-order="stroke" stroke-linejoin="round">0.6</text><g clip-path="url(#c11)"><polyline points="542.50,1287.70 544.99,1286.58 547.48,1285.46 549.97,1284.33 552.46,1283.21 554.95,1282.08 557.44,1280.94 559.93,1279.80 562.42,1278.66 564.92,1277.52 567.41,1276.37 569.90,1275.22 572.39,1274.06 574.88,1272.90 577.37,1271.74 579.86,1270.58 582.35,1269.41 584.84,1268.24 587.33,1267.07 589.82,1265.89 592.31,1264.71 594.80,1263.53 597.29,1262.34 599.78,1261.15 602.27,1259.96 604.77,1258.76 607.26,1257.57 609.75,1256.36 612.24,1255.16 614.73,1253.96 617.22,1252.75 619.71,1251.53 622.20,1250.32 624.69,1249.10 627.18,1247.88 629.67,1246.66 632.16,1245.44 634.65,1244.21 637.14,1242.98 639.63,1241.75 642.12,1240.52 644.62,1239.28 647.11,1238.04 649.60,1236.80 652.09,1235.56 654.58,1234.31 657.07,1233.06 659.56,1231.81 662.05,1230.56 664.54,1229.31 667.03,1228.05 669.52,1226.80 672.01,1225.54 674.50,1224.28 676.99,1223.01 679.48,1221.75 681.97,1220.48 684.47,1219.22 686.96,1217.95 689.45,1216.68 691.94,1215.40 694.43,1214.13 696.92,1212.86 699.41,1211.58 701.90,1210.30 704.39,1209.02 706.88,1207.74 709.37,1206.46 711.86,1205.18 714.35,1203.89 716.84,1202.61 719.33,1201.32 721.83,1200.04 724.32,1198.75 726.81,1197.46 729.30,1196.17 731.79,1194.88 734.28,1193.59 736.77,1192.30 739.26,1191.01 741.75,1189.72 744.24,1188.43 746.73,1187.13 749.22,1185.84 751.71,1184.55 754.20,1183.25 756.69,1181.96 759.18,1180.66 761.67,1179.37 764.17,1178.08 766.66,1176.78 769.15,1175.49 771.64,1174.19 774.13,1172.90 776.62,1171.60 779.11,1170.31 781.60,1169.02 784.09,1167.72 786.58,1166.43 789.07,1165.14 791.56,1163.85 794.05,1162.56 796.54,1161.27 799.03,1159.98 801.52,1158.69 804.02,1157.40 806.51,1156.11 809.00,1154.83 811.49,1153.54 813.98,1152.26 816.47,1150.97 818.96,1149.69 821.45,1148.41 823.94,1147.13 826.43,1145.85 828.92,1144.57 831.41,1143.30 833.90,1142.02 836.39,1140.75 838.88,1139.47 841.38,1138.20 843.87,1136.94 846.36,1135.67 848.85,1134.40 851.34,1133.14 853.83,1131.88 856.32,1130.62 858.81,1129.36 861.30,1128.10 863.79,1126.85 866.28,1125.60 868.77,1124.34 871.26,1123.10 873.75,1121.85 876.24,1120.61 878.73,1119.37 881.23,1118.13 883.72,1116.89 886.21,1115.65 888.70,1114.42 891.19,1113.19 893.68,1111.97 896.17,1110.74 898.66,1109.52 901.15,1108.30 903.64,1107.08 906.13,1105.87 908.62,1104.66 911.11,1103.45 913.60,1102.25 916.09,1101.05 918.58,1099.85 921.08,1098.65 923.57,1097.46 926.06,1096.27 928.55,1095.08 931.04,1093.90 933.53,1092.72 936.02,1091.54 938.51,1090.36 941.00,1089.19" fill="none" stroke="#bd2b3c" stroke-width="3.2" stroke-linejoin="round" stroke-dasharray="15 11" stroke-linecap="round"/></g><g clip-path="url(#c11)"><polyline points="542.50,1437.35 544.99,1435.90 547.48,1434.41 549.97,1432.89 552.46,1431.33 554.95,1429.74 557.44,1428.11 559.93,1426.45 562.42,1424.75 564.92,1423.01 567.41,1421.24 569.90,1419.43 572.39,1417.57 574.88,1415.68 577.37,1413.75 579.86,1411.78 582.35,1409.77 584.84,1407.72 587.33,1405.62 589.82,1403.49 592.31,1401.31 594.80,1399.09 597.29,1396.82 599.78,1394.51 602.27,1392.16 604.77,1389.76 607.26,1387.32 609.75,1384.84 612.24,1382.31 614.73,1379.73 617.22,1377.11 619.71,1374.45 622.20,1371.74 624.69,1368.98 627.18,1366.18 629.67,1363.33 632.16,1360.44 634.65,1357.50 637.14,1354.52 639.63,1351.49 642.12,1348.42 644.62,1345.30 647.11,1342.14 649.60,1338.93 652.09,1335.68 654.58,1332.39 657.07,1329.06 659.56,1325.68 662.05,1322.26 664.54,1318.80 667.03,1315.30 669.52,1311.76 672.01,1308.19 674.50,1304.57 676.99,1300.92 679.48,1297.23 681.97,1293.50 684.47,1289.75 686.96,1285.95 689.45,1282.13 691.94,1278.28 694.43,1274.39 696.92,1270.48 699.41,1266.54 701.90,1262.58 704.39,1258.59 706.88,1254.57 709.37,1250.54 711.86,1246.48 714.35,1242.41 716.84,1238.32 719.33,1234.21 721.83,1230.09 724.32,1225.96 726.81,1221.82 729.30,1217.66 731.79,1213.50 734.28,1209.34 736.77,1205.17 739.26,1200.99 741.75,1196.82 744.24,1192.65 746.73,1188.48 749.22,1184.31 751.71,1180.15 754.20,1176.00 756.69,1171.85 759.18,1167.72 761.67,1163.60 764.17,1159.49 766.66,1155.40 769.15,1151.33 771.64,1147.27 774.13,1143.24 776.62,1139.22 779.11,1135.23 781.60,1131.27 784.09,1127.33 786.58,1123.42 789.07,1119.53 791.56,1115.68 794.05,1111.86 796.54,1108.06 799.03,1104.31 801.52,1100.58 804.02,1096.89 806.51,1093.24 809.00,1089.63 811.49,1086.05 813.98,1082.51 816.47,1079.02 818.96,1075.56 821.45,1072.14 823.94,1068.77 826.43,1065.44 828.92,1062.15 831.41,1058.90 833.90,1055.70 836.39,1052.54 838.88,1049.43 841.38,1046.36 843.87,1043.34 846.36,1040.36 848.85,1037.43 851.34,1034.54 853.83,1031.70 856.32,1028.91 858.81,1026.16 861.30,1023.46 863.79,1020.80 866.28,1018.19 868.77,1015.62 871.26,1013.10 873.75,1010.63 876.24,1008.20 878.73,1005.81 881.23,1003.47 883.72,1001.17 886.21,998.92 888.70,996.71 891.19,994.54 893.68,992.42 896.17,990.34 898.66,988.30 901.15,986.30 903.64,984.34 906.13,982.42 908.62,980.55 911.11,978.71 913.60,976.91 916.09,975.15 918.58,973.43 921.08,971.75 923.57,970.10 926.06,968.49 928.55,966.91 931.04,965.37 933.53,963.87 936.02,962.40 938.51,960.96 941.00,959.56" fill="none" stroke="#1f5ca8" stroke-width="4.8" stroke-linejoin="round" stroke-linecap="butt"/></g><g clip-path="url(#c12)"><line x1="1009.79" y1="909.2" x2="1009.79" y2="1488.5" stroke="#e2e2e2" stroke-width="1.4"/><line x1="979.2" y1="1464.53" x2="1380.7" y2="1464.53" stroke="#e2e2e2" stroke-width="1.4"/><line x1="1042.02" y1="909.2" x2="1042.02" y2="1488.5" stroke="#e2e2e2" stroke-width="1.4"/><line x1="979.2" y1="1435.15" x2="1380.7" y2="1435.15" stroke="#e2e2e2" stroke-width="1.4"/><line x1="1074.26" y1="909.2" x2="1074.26" y2="1488.5" stroke="#e2e2e2" stroke-width="1.4"/><line x1="979.2" y1="1405.78" x2="1380.7" y2="1405.78" stroke="#e2e2e2" stroke-width="1.4"/><line x1="1138.74" y1="909.2" x2="1138.74" y2="1488.5" stroke="#e2e2e2" stroke-width="1.4"/><line x1="979.2" y1="1347.03" x2="1380.7" y2="1347.03" stroke="#e2e2e2" stroke-width="1.4"/><line x1="1170.97" y1="909.2" x2="1170.97" y2="1488.5" stroke="#e2e2e2" stroke-width="1.4"/><line x1="979.2" y1="1317.65" x2="1380.7" y2="1317.65" stroke="#e2e2e2" stroke-width="1.4"/><line x1="1203.21" y1="909.2" x2="1203.21" y2="1488.5" stroke="#e2e2e2" stroke-width="1.4"/><line x1="979.2" y1="1288.28" x2="1380.7" y2="1288.28" stroke="#e2e2e2" stroke-width="1.4"/><line x1="1267.69" y1="909.2" x2="1267.69" y2="1488.5" stroke="#e2e2e2" stroke-width="1.4"/><line x1="979.2" y1="1229.53" x2="1380.7" y2="1229.53" stroke="#e2e2e2" stroke-width="1.4"/><line x1="1299.92" y1="909.2" x2="1299.92" y2="1488.5" stroke="#e2e2e2" stroke-width="1.4"/><line x1="979.2" y1="1200.15" x2="1380.7" y2="1200.15" stroke="#e2e2e2" stroke-width="1.4"/><line x1="1332.16" y1="909.2" x2="1332.16" y2="1488.5" stroke="#e2e2e2" stroke-width="1.4"/><line x1="979.2" y1="1170.78" x2="1380.7" y2="1170.78" stroke="#e2e2e2" stroke-width="1.4"/><line x1="979.2" y1="1112.03" x2="1380.7" y2="1112.03" stroke="#e2e2e2" stroke-width="1.4"/><line x1="979.2" y1="1082.65" x2="1380.7" y2="1082.65" stroke="#e2e2e2" stroke-width="1.4"/><line x1="979.2" y1="1053.28" x2="1380.7" y2="1053.28" stroke="#e2e2e2" stroke-width="1.4"/><line x1="979.2" y1="994.53" x2="1380.7" y2="994.53" stroke="#e2e2e2" stroke-width="1.4"/><line x1="979.2" y1="965.15" x2="1380.7" y2="965.15" stroke="#e2e2e2" stroke-width="1.4"/><line x1="979.2" y1="935.78" x2="1380.7" y2="935.78" stroke="#e2e2e2" stroke-width="1.4"/><line x1="980.00" y1="909.2" x2="980.00" y2="1488.5" stroke="#eeeeee" stroke-width="1.4"/><line x1="1106.50" y1="909.2" x2="1106.50" y2="1488.5" stroke="#a6a6a6" stroke-width="1.5"/><line x1="979.2" y1="1376.40" x2="1380.7" y2="1376.40" stroke="#a6a6a6" stroke-width="1.5"/><line x1="1235.45" y1="909.2" x2="1235.45" y2="1488.5" stroke="#a6a6a6" stroke-width="1.5"/><line x1="979.2" y1="1258.90" x2="1380.7" y2="1258.90" stroke="#a6a6a6" stroke-width="1.5"/><line x1="1364.40" y1="909.2" x2="1364.40" y2="1488.5" stroke="#a6a6a6" stroke-width="1.5"/><line x1="979.2" y1="1141.40" x2="1380.7" y2="1141.40" stroke="#a6a6a6" stroke-width="1.5"/><line x1="979.2" y1="1023.90" x2="1380.7" y2="1023.90" stroke="#a6a6a6" stroke-width="1.5"/></g><rect x="980.7" y="1373.9" width="18.0" height="5" fill="#fff"/><text x="980.2" y="1381.2" font-size="13.3" fill="#959595" stroke="#fff" stroke-width="3" paint-order="stroke" stroke-linejoin="round">0.2</text><rect x="980.7" y="1256.4" width="18.0" height="5" fill="#fff"/><text x="980.2" y="1263.7" font-size="13.3" fill="#959595" stroke="#fff" stroke-width="3" paint-order="stroke" stroke-linejoin="round">0.4</text><rect x="980.7" y="1138.9" width="18.0" height="5" fill="#fff"/><text x="980.2" y="1146.2" font-size="13.3" fill="#959595" stroke="#fff" stroke-width="3" paint-order="stroke" stroke-linejoin="round">0.6</text><rect x="980.7" y="1021.4" width="18.0" height="5" fill="#fff"/><text x="980.2" y="1028.7" font-size="13.3" fill="#959595" stroke="#fff" stroke-width="3" paint-order="stroke" stroke-linejoin="round">0.8</text><path d="M981.2 915.0 L984.2 912.6 L984.2 921.5" fill="none" stroke="#959595" stroke-width="1.35" stroke-linejoin="miter"/><text x="1106.5" y="1487.0" font-size="13.3" fill="#959595" text-anchor="middle" stroke="#fff" stroke-width="2" paint-order="stroke" stroke-linejoin="round">0.2</text><text x="1235.5" y="1487.0" font-size="13.3" fill="#959595" text-anchor="middle" stroke="#fff" stroke-width="2" paint-order="stroke" stroke-linejoin="round">0.4</text><text x="1364.4" y="1487.0" font-size="13.3" fill="#959595" text-anchor="middle" stroke="#fff" stroke-width="2" paint-order="stroke" stroke-linejoin="round">0.6</text><g clip-path="url(#c12)"><polyline points="979.20,1314.64 981.71,1312.14 984.22,1309.62 986.73,1307.07 989.24,1304.51 991.75,1301.93 994.26,1299.32 996.77,1296.70 999.28,1294.05 1001.78,1291.39 1004.29,1288.71 1006.80,1286.01 1009.31,1283.29 1011.82,1280.55 1014.33,1277.79 1016.84,1275.02 1019.35,1272.23 1021.86,1269.43 1024.37,1266.61 1026.88,1263.77 1029.39,1260.92 1031.90,1258.06 1034.41,1255.18 1036.92,1252.28 1039.42,1249.38 1041.93,1246.46 1044.44,1243.53 1046.95,1240.59 1049.46,1237.64 1051.97,1234.68 1054.48,1231.71 1056.99,1228.73 1059.50,1225.75 1062.01,1222.75 1064.52,1219.75 1067.03,1216.74 1069.54,1213.73 1072.05,1210.71 1074.56,1207.69 1077.07,1204.66 1079.58,1201.63 1082.08,1198.60 1084.59,1195.56 1087.10,1192.53 1089.61,1189.49 1092.12,1186.46 1094.63,1183.43 1097.14,1180.39 1099.65,1177.36 1102.16,1174.34 1104.67,1171.31 1107.18,1168.29 1109.69,1165.28 1112.20,1162.27 1114.71,1159.27 1117.22,1156.27 1119.72,1153.28 1122.23,1150.30 1124.74,1147.33 1127.25,1144.37 1129.76,1141.42 1132.27,1138.47 1134.78,1135.54 1137.29,1132.62 1139.80,1129.72 1142.31,1126.83 1144.82,1123.95 1147.33,1121.08 1149.84,1118.23 1152.35,1115.39 1154.86,1112.57 1157.37,1109.77 1159.88,1106.98 1162.38,1104.21 1164.89,1101.46 1167.40,1098.72 1169.91,1096.01 1172.42,1093.31 1174.93,1090.63 1177.44,1087.98 1179.95,1085.34 1182.46,1082.72 1184.97,1080.12 1187.48,1077.55 1189.99,1074.99 1192.50,1072.46 1195.01,1069.95 1197.52,1067.46 1200.03,1065.00 1202.53,1062.55 1205.04,1060.14 1207.55,1057.74 1210.06,1055.37 1212.57,1053.02 1215.08,1050.69 1217.59,1048.39 1220.10,1046.12 1222.61,1043.86 1225.12,1041.64 1227.63,1039.43 1230.14,1037.26 1232.65,1035.10 1235.16,1032.97 1237.67,1030.87 1240.17,1028.79 1242.68,1026.74 1245.19,1024.71 1247.70,1022.71 1250.21,1020.73 1252.72,1018.77 1255.23,1016.85 1257.74,1014.94 1260.25,1013.06 1262.76,1011.21 1265.27,1009.38 1267.78,1007.58 1270.29,1005.80 1272.80,1004.04 1275.31,1002.31 1277.82,1000.60 1280.33,998.92 1282.83,997.26 1285.34,995.63 1287.85,994.02 1290.36,992.43 1292.87,990.87 1295.38,989.33 1297.89,987.81 1300.40,986.32 1302.91,984.85 1305.42,983.40 1307.93,981.98 1310.44,980.57 1312.95,979.19 1315.46,977.83 1317.97,976.50 1320.47,975.18 1322.98,973.88 1325.49,972.61 1328.00,971.36 1330.51,970.12 1333.02,968.91 1335.53,967.72 1338.04,966.55 1340.55,965.40 1343.06,964.26 1345.57,963.15 1348.08,962.06 1350.59,960.98 1353.10,959.92 1355.61,958.89 1358.12,957.87 1360.62,956.86 1363.13,955.88 1365.64,954.91 1368.15,953.96 1370.66,953.03 1373.17,952.11 1375.68,951.21 1378.19,950.33 1380.70,949.46" fill="none" stroke="#bd2b3c" stroke-width="3.2" stroke-linejoin="round" stroke-dasharray="15 11" stroke-linecap="round"/></g><g clip-path="url(#c12)"><polyline points="979.20,1468.15 981.71,1467.26 984.22,1466.34 986.73,1465.38 989.24,1464.39 991.75,1463.37 994.26,1462.31 996.77,1461.21 999.28,1460.07 1001.78,1458.89 1004.29,1457.67 1006.80,1456.41 1009.31,1455.10 1011.82,1453.75 1014.33,1452.35 1016.84,1450.90 1019.35,1449.41 1021.86,1447.86 1024.37,1446.25 1026.88,1444.60 1029.39,1442.89 1031.90,1441.12 1034.41,1439.29 1036.92,1437.40 1039.42,1435.45 1041.93,1433.43 1044.44,1431.35 1046.95,1429.20 1049.46,1426.99 1051.97,1424.70 1054.48,1422.34 1056.99,1419.91 1059.50,1417.40 1062.01,1414.82 1064.52,1412.16 1067.03,1409.42 1069.54,1406.60 1072.05,1403.70 1074.56,1400.72 1077.07,1397.65 1079.58,1394.50 1082.08,1391.25 1084.59,1387.93 1087.10,1384.51 1089.61,1381.01 1092.12,1377.41 1094.63,1373.73 1097.14,1369.95 1099.65,1366.09 1102.16,1362.13 1104.67,1358.08 1107.18,1353.94 1109.69,1349.72 1112.20,1345.40 1114.71,1340.99 1117.22,1336.50 1119.72,1331.91 1122.23,1327.25 1124.74,1322.49 1127.25,1317.66 1129.76,1312.74 1132.27,1307.75 1134.78,1302.67 1137.29,1297.53 1139.80,1292.31 1142.31,1287.03 1144.82,1281.68 1147.33,1276.26 1149.84,1270.79 1152.35,1265.26 1154.86,1259.68 1157.37,1254.06 1159.88,1248.39 1162.38,1242.68 1164.89,1236.93 1167.40,1231.16 1169.91,1225.36 1172.42,1219.54 1174.93,1213.70 1177.44,1207.85 1179.95,1201.99 1182.46,1196.13 1184.97,1190.28 1187.48,1184.43 1189.99,1178.59 1192.50,1172.78 1195.01,1166.98 1197.52,1161.21 1200.03,1155.47 1202.53,1149.76 1205.04,1144.10 1207.55,1138.48 1210.06,1132.91 1212.57,1127.39 1215.08,1121.93 1217.59,1116.52 1220.10,1111.18 1222.61,1105.91 1225.12,1100.70 1227.63,1095.57 1230.14,1090.51 1232.65,1085.52 1235.16,1080.62 1237.67,1075.80 1240.17,1071.06 1242.68,1066.41 1245.19,1061.84 1247.70,1057.36 1250.21,1052.97 1252.72,1048.67 1255.23,1044.46 1257.74,1040.33 1260.25,1036.30 1262.76,1032.37 1265.27,1028.52 1267.78,1024.76 1270.29,1021.10 1272.80,1017.52 1275.31,1014.03 1277.82,1010.64 1280.33,1007.33 1282.83,1004.11 1285.34,1000.98 1287.85,997.93 1290.36,994.96 1292.87,992.08 1295.38,989.28 1297.89,986.56 1300.40,983.93 1302.91,981.36 1305.42,978.88 1307.93,976.47 1310.44,974.13 1312.95,971.87 1315.46,969.67 1317.97,967.54 1320.47,965.48 1322.98,963.49 1325.49,961.56 1328.00,959.69 1330.51,957.88 1333.02,956.13 1335.53,954.44 1338.04,952.80 1340.55,951.22 1343.06,949.69 1345.57,948.21 1348.08,946.78 1350.59,945.40 1353.10,944.07 1355.61,942.78 1358.12,941.54 1360.62,940.33 1363.13,939.17 1365.64,938.05 1368.15,936.97 1370.66,935.93 1373.17,934.92 1375.68,933.95 1378.19,933.01 1380.70,932.10" fill="none" stroke="#1f5ca8" stroke-width="4.8" stroke-linejoin="round" stroke-linecap="butt"/></g><circle cx="669.22" cy="459.36" r="4.6" fill="#000"/><rect x="676.5" y="467.5" width="137.0" height="42.5" rx="4.5" fill="#fff" stroke="#e2e2e2" stroke-width="1.2"/><text x="745.0" y="495.2" font-size="20.5" fill="#333" text-anchor="middle" style="font-family:'Liberation Serif',serif">(0.2045, 0.43)</text><circle cx="1031.21" cy="524.03" r="4.6" fill="#000"/><rect x="1038.7" y="531.5" width="157.0" height="42.5" rx="4.5" fill="#fff" stroke="#e2e2e2" stroke-width="1.2"/><text x="1117.2" y="559.3" font-size="20.5" fill="#333" text-anchor="middle" style="font-family:'Liberation Serif',serif">(0.0894, 0.3216)</text><circle cx="749.56" cy="1183.47" r="4.6" fill="#000"/><rect x="757.1" y="1191.0" width="157.0" height="42.5" rx="4.5" fill="#fff" stroke="#e2e2e2" stroke-width="1.2"/><text x="835.6" y="1218.7" font-size="20.5" fill="#333" text-anchor="middle" style="font-family:'Liberation Serif',serif">(0.3246, 0.5284)</text><circle cx="1300.44" cy="986.48" r="4.6" fill="#000"/><rect x="1136.5" y="937.5" width="156.9" height="42.9" rx="4.5" fill="#fff" stroke="#e2e2e2" stroke-width="1.2"/><text x="1215.0" y="965.5" font-size="20.5" fill="#333" text-anchor="middle" style="font-family:'Liberation Serif',serif">(0.5008, 0.8637)</text><line x1="6.0" y1="76.5" x2="1394.0" y2="76.5" stroke="#6f6f6f" stroke-width="2" stroke-dasharray="5.2 3.9"/><line x1="6.0" y1="715.2" x2="1394.0" y2="715.2" stroke="#6f6f6f" stroke-width="2" stroke-dasharray="5.2 3.9"/><line x1="74.2" y1="76.5" x2="74.2" y2="779.0" stroke="#6f6f6f" stroke-width="2" stroke-dasharray="5.2 3.9"/><line x1="522.6" y1="76.5" x2="522.6" y2="715.2" stroke="#6f6f6f" stroke-width="2" stroke-dasharray="5.2 3.9"/><line x1="959.5" y1="76.5" x2="959.5" y2="715.2" stroke="#6f6f6f" stroke-width="2" stroke-dasharray="5.2 3.9"/><line x1="6.0" y1="865.8" x2="1394.0" y2="865.8" stroke="#6f6f6f" stroke-width="2" stroke-dasharray="5.2 3.9"/><line x1="6.0" y1="1492.9" x2="1394.0" y2="1492.9" stroke="#6f6f6f" stroke-width="2" stroke-dasharray="5.2 3.9"/><line x1="74.2" y1="865.8" x2="74.2" y2="1554.5" stroke="#6f6f6f" stroke-width="2" stroke-dasharray="5.2 3.9"/><line x1="522.6" y1="865.8" x2="522.6" y2="1492.9" stroke="#6f6f6f" stroke-width="2" stroke-dasharray="5.2 3.9"/><line x1="959.5" y1="865.8" x2="959.5" y2="1492.9" stroke="#6f6f6f" stroke-width="2" stroke-dasharray="5.2 3.9"/><rect x="5.7" y="5.7" width="1388.5" height="1548.9" fill="none" stroke="#000" stroke-width="2.3" rx="1.5"/><circle cx="0" cy="0" r="2.6" fill="none" stroke="#9a9a9a" stroke-width="1.8"/><path d="M1397 1563 L1397 1559.8 Q1397 1557.6 1399.2 1557.6 L1400 1557.6" fill="none" stroke="#666" stroke-width="1.7"/><line x1="5" y1="779.1" x2="1395" y2="779.1" stroke="#000" stroke-width="2.4"/><text x="22" y="70.6" font-size="38.5" font-weight="bold" fill="#000" stroke="#fff" stroke-width="3" stroke-linejoin="round" paint-order="stroke">Without extreme anxiety</text><text x="279.7" y="109.6" font-size="31" fill="#000">T</text><path d="M301.2 92.0 L308.0 87.0 L308.0 109.6" fill="none" stroke="#000" stroke-width="3.0" stroke-linejoin="bevel" stroke-linecap="butt"/><text x="741.0" y="109.6" font-size="31" text-anchor="middle" fill="#000">T2</text><text x="1176.6" y="109.6" font-size="31" text-anchor="middle" fill="#000">T3</text><text x="734.5" y="759.9" font-size="33" text-anchor="middle" fill="#000">Baseline MWD</text><text transform="translate(52.6 391.4) rotate(-90)" x="0" y="0" font-size="33" text-anchor="middle" fill="#000" stroke="#fff" stroke-width="3" stroke-linejoin="round" paint-order="stroke">MWD</text><text x="22" y="855.9" font-size="38.5" font-weight="bold" fill="#000" stroke="#fff" stroke-width="3" stroke-linejoin="round" paint-order="stroke">With extreme anxiety</text><text x="279.7" y="899.2" font-size="31" fill="#000">T</text><path d="M301.2 881.6 L308.0 876.6 L308.0 899.2" fill="none" stroke="#000" stroke-width="3.0" stroke-linejoin="bevel" stroke-linecap="butt"/><text x="741.0" y="899.2" font-size="31" text-anchor="middle" fill="#000">T2</text><text x="1176.6" y="899.2" font-size="31" text-anchor="middle" fill="#000">T3</text><text x="734.5" y="1535.7" font-size="33" text-anchor="middle" fill="#000">Baseline MWD</text><text transform="translate(52.6 1178.3) rotate(-90)" x="0" y="0" font-size="33" text-anchor="middle" fill="#000" stroke="#fff" stroke-width="3" stroke-linejoin="round" paint-order="stroke">MWD</text></svg></body></html>
